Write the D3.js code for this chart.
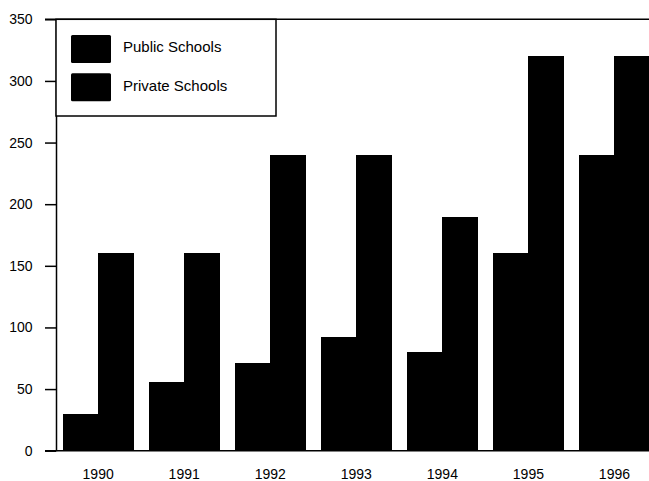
<!DOCTYPE html>
<html>
<head>
<meta charset="utf-8">
<title>Schools</title>
<script src="https://cdn.jsdelivr.net/npm/d3@7"></script>
<style>
  body { margin: 0; background: #fff; overflow: hidden; }
  text { font-family: "Liberation Sans", Arial, sans-serif; fill: #000; }
</style>
</head>
<body>
<div id="chart"></div>
<script>
// data
var years = ["1990", "1991", "1992", "1993", "1994", "1995", "1996"];
var publicSchools = [30, 56, 71, 92, 80, 160, 240];
var privateSchools = [160, 160, 240, 240, 190, 320, 320];
var seriesNames = ["Public Schools", "Private Schools"];
var yTicks = [0, 50, 100, 150, 200, 250, 300, 350];

var w = 649, h = 481;
var plotLeft = 56, plotTop = 19.3, plotBottom = 450.7;

var svg = d3.select("#chart").append("svg")
    .attr("width", w)
    .attr("height", h)
    .style("display", "block");

var x = d3.scaleBand()
    .domain(years)
    .range([plotLeft, 656.6])
    .paddingInner(0.183)
    .paddingOuter(0.0813);

var x1 = d3.scaleBand()
    .domain(seriesNames)
    .range([0, x.bandwidth()]);

var y = d3.scaleLinear()
    .domain([0, 350])
    .range([plotBottom, plotTop]);

var rows = years.map(function(yr, i) {
  return { year: yr, values: [publicSchools[i], privateSchools[i]] };
});

// bars
var g = svg.selectAll(".grp")
    .data(rows).enter()
    .append("g")
    .attr("class", "grp")
    .attr("transform", function(d) { return "translate(" + x(d.year) + ",0)"; });

g.selectAll("rect")
    .data(function(d) { return d.values.map(function(v, j) { return { name: seriesNames[j], v: v }; }); })
    .enter().append("rect")
    .attr("x", function(d) { return x1(d.name); })
    .attr("y", function(d) { return y(d.v); })
    .attr("width", x1.bandwidth() + 0.6)
    .attr("height", function(d) { return plotBottom - y(d.v); })
    .attr("fill", "#000")
    .attr("shape-rendering", "crispEdges");

// y axis
var yAxis = d3.axisLeft(y)
    .tickValues(yTicks)
    .tickSize(11)
    .tickSizeOuter(0)
    .tickPadding(12.5);

var ya = svg.append("g")
    .attr("transform", "translate(" + plotLeft + ",0)")
    .call(yAxis);
ya.selectAll("text").style("font-size", "14px");
ya.selectAll("line, path").attr("stroke", "#000").attr("stroke-width", 1.5);

// x axis
var xAxis = d3.axisBottom(x)
    .tickSize(0)
    .tickSizeOuter(0)
    .tickPadding(18.6);

var xa = svg.append("g")
    .attr("transform", "translate(0," + plotBottom + ")")
    .call(xAxis);
xa.select(".domain").remove();
xa.selectAll("text").style("font-size", "14px");

// top and bottom lines across the plot
svg.append("line")
    .attr("x1", 45).attr("x2", w)
    .attr("y1", plotTop).attr("y2", plotTop)
    .attr("stroke", "#000").attr("stroke-width", 1.5);
svg.append("line")
    .attr("x1", 45).attr("x2", w)
    .attr("y1", plotBottom).attr("y2", plotBottom)
    .attr("stroke", "#000").attr("stroke-width", 1.5);

// legend
var legend = svg.append("g");
legend.append("rect")
    .attr("x", plotLeft).attr("y", plotTop)
    .attr("width", 220).attr("height", 116 - plotTop)
    .attr("fill", "#fff")
    .attr("stroke", "#000").attr("stroke-width", 1.5);

var li = legend.selectAll(".item")
    .data(seriesNames).enter()
    .append("g")
    .attr("class", "item")
    .attr("transform", function(d, i) { return "translate(71," + (35 + i * 38.3) + ")"; });

li.append("rect")
    .attr("width", 40).attr("height", 28)
    .attr("rx", 1.5)
    .attr("fill", "#000");

li.append("text")
    .attr("x", 52).attr("y", 17.3)
    .style("font-size", "15px")
    .text(function(d) { return d; });
</script>
</body>
</html>
